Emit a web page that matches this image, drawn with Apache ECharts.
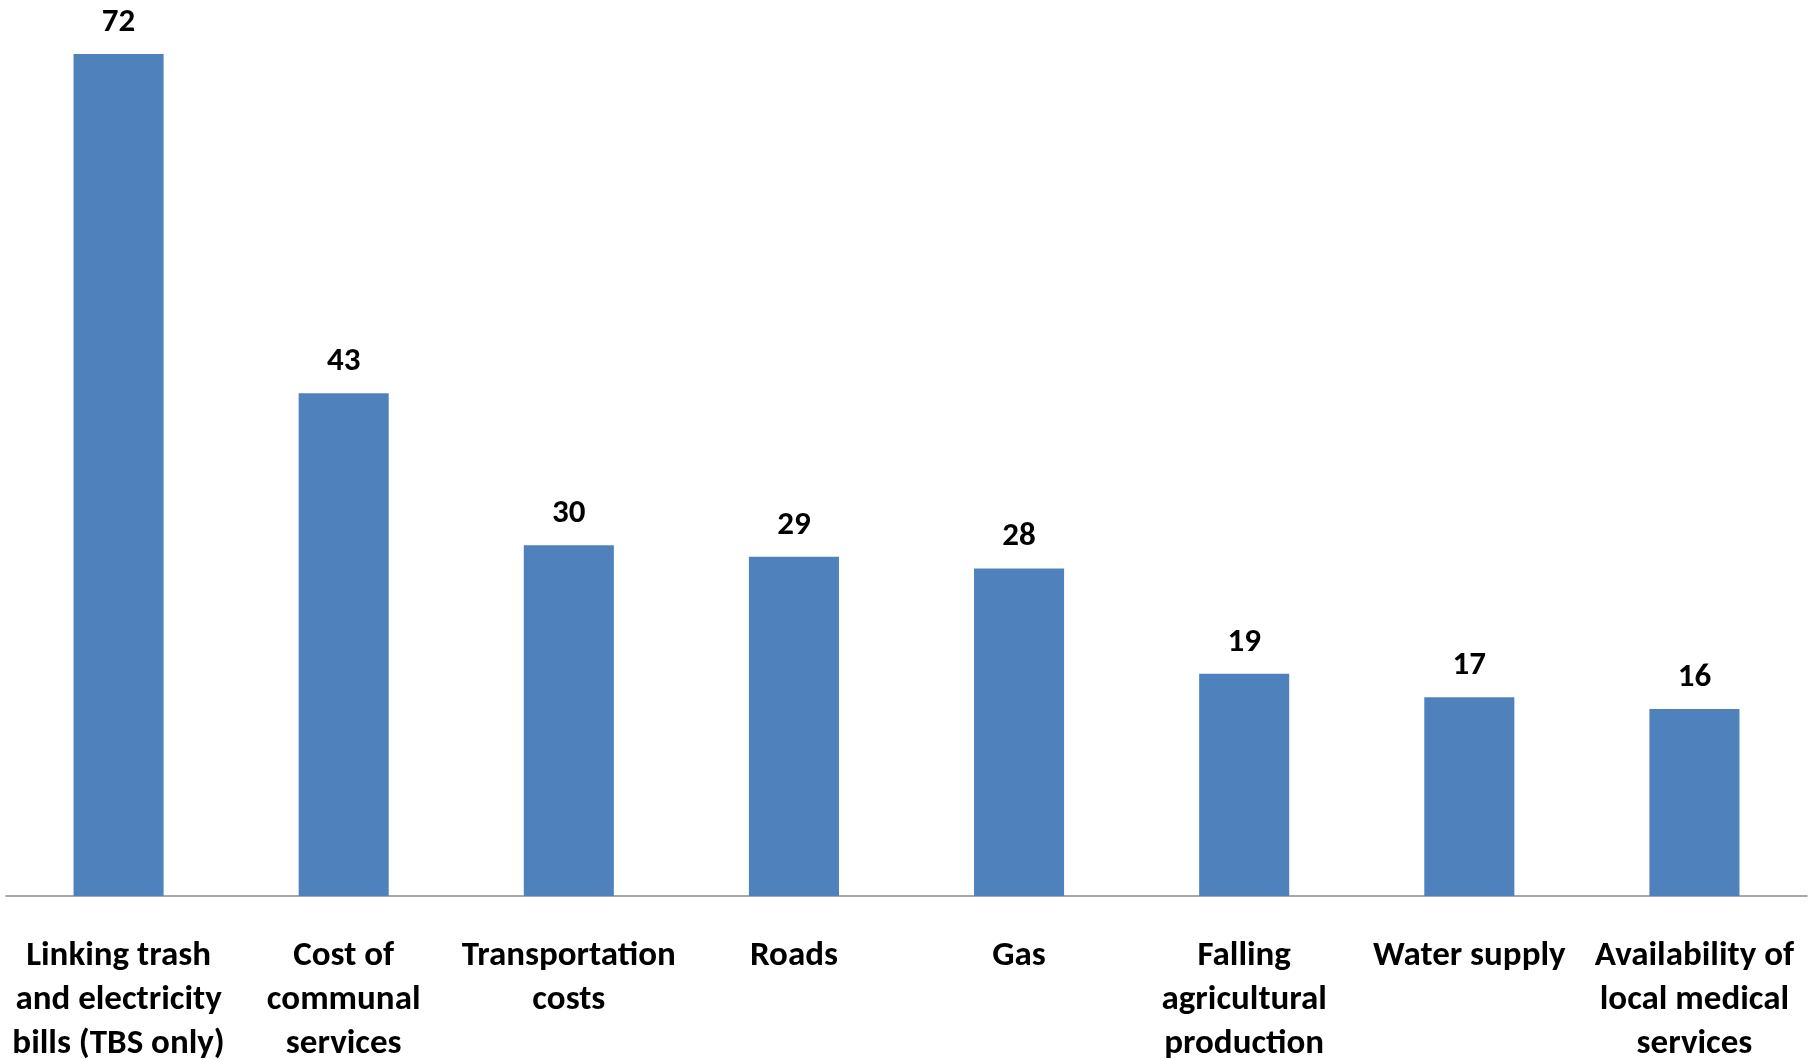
<!DOCTYPE html>
<html><head><meta charset="utf-8">
<script src="https://cdn.jsdelivr.net/npm/echarts@6/dist/echarts.min.js"></script>
<style>html,body{margin:0;padding:0;background:#fff}#c{width:1819px;height:1060px}</style>
</head><body><div id="c"></div>
<script>
const categories = [
  "Linking trash\nand electricity\nbills (TBS only)",
  "Cost of\ncommunal\nservices",
  "Transportation\ncosts",
  "Roads",
  "Gas",
  "Falling\nagricultural\nproduction",
  "Water supply",
  "Availability of\nlocal medical\nservices"
];
const values = [72, 43, 30, 29, 28, 19, 17, 16];

const font = "Carlito, Calibri, 'Liberation Sans', Arial, sans-serif";
const chart = echarts.init(document.getElementById('c'), null, {renderer: 'canvas'});
chart.setOption({
  animation: false,
  grid: {left: 6, right: 12, top: 54, bottom: 164, containLabel: false, outerBoundsMode: 'none'},
  xAxis: {
    type: 'category',
    data: categories,
    axisLine: {lineStyle: {color: '#8c8c8c', width: 1.5}},
    axisTick: {show: false},
    axisLabel: {
      interval: 0, margin: 38, color: '#000',
      fontFamily: font, fontWeight: 'bold', fontSize: 35, lineHeight: 44
    }
  },
  yAxis: {
    type: 'value', min: 0, max: 72,
    show: false, splitLine: {show: false}
  },
  series: [{
    type: 'bar',
    data: values,
    barWidth: '40%',
    itemStyle: {color: '#4F81BD'},
    label: {
      show: true, position: 'top', distance: 15, color: '#000',
      fontFamily: font, fontWeight: 'bold', fontSize: 33
    }
  }]
});
</script></body></html>
